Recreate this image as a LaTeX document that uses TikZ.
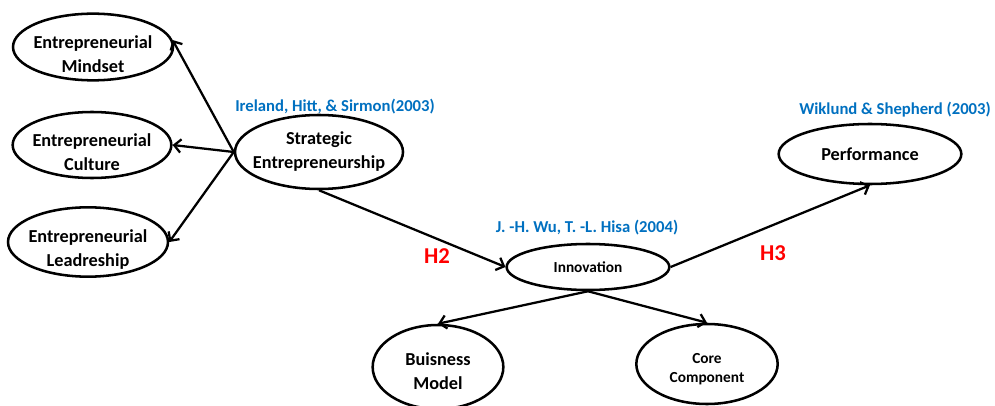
\documentclass[tikz,border=0pt]{standalone}
\usepackage{fontspec}
\setmainfont{Carlito}
\usetikzlibrary{shapes.geometric,arrows.meta}
\definecolor{citeblue}{RGB}{0,112,192}
\newcommand\topgap[1]{\rule{0pt}{#1}}
\tikzset{
	concept/.style={ellipse,draw,line width=1.9pt,inner sep=-6pt,align=center,font=\bfseries\fontsize{13.7}{18}\selectfont},
	small/.style={font=\bfseries\fontsize{11.5}{14.5}\selectfont},
	cite/.style={text=citeblue,font=\bfseries\fontsize{12.5}{15}\selectfont},
	hyp/.style={text=red,font=\bfseries\fontsize{17}{20}\selectfont}
}
\begin{document}
\begin{tikzpicture}[x=0.75pt,y=-0.75pt,>={Straight Barb[length=5pt,width=10pt]},line width=1.7pt]
				\useasboundingbox (0,0) rectangle (995,406);
				\node[concept,minimum width=120pt,minimum height=50pt] (mindset) at (93,47) {\topgap{21pt}Entrepreneurial\\Mindset};
				\node[concept,minimum width=119pt,minimum height=49.5pt] (culture) at (92,145) {\topgap{21pt}Entrepreneurial\\Culture};
				\node[concept,minimum width=120pt,minimum height=52pt] (leader) at (88,242) {\topgap{21pt}Entrepreneurial\\Leadreship};
				\node[concept,minimum width=126pt,minimum height=55.5pt] (strat) at (319,152) {Strategic\\Entrepreneurship};
				\node[concept,minimum width=137pt,minimum height=45pt] (perf) at (870,154) {Performance};
				\node[concept,small,minimum width=122pt,minimum height=34.5pt] (innov) at (588,267) {Innovation};
				\node[concept,minimum width=98pt,minimum height=63pt] (bm) at (438,367) {\topgap{16pt}Buisness\\Model};
				\node[concept,small,minimum width=106pt,minimum height=60pt] (cc) at (707,364) {\topgap{15pt}Core\\Component};
				\draw[->] (strat.west)--(mindset.5);
				\draw[->] (strat.west)--(culture.east);
				\draw[->] (strat.west)--(leader.east);
				\draw[->] (strat.south)--(innov.west);
				\draw[->] (innov.east)--(perf.south);
				\draw[->] (innov.south)--(bm.north);
				\draw[->] (innov.south)--(cc.north);
				\node[cite] (ireland) at (335,107) {Ireland, Hitt, \& Sirmon(2003)};
				\node[cite] (wiklund) at (895,110) {Wiklund \& Shepherd (2003)};
				\node[cite] (wu) at (587,228) {J. -H. Wu, T. -L. Hisa (2004)};
				\node[hyp] (h2) at (437,256) {H2};
				\node[hyp] (h3) at (773,253) {H3};
			\end{tikzpicture}
\end{document}
